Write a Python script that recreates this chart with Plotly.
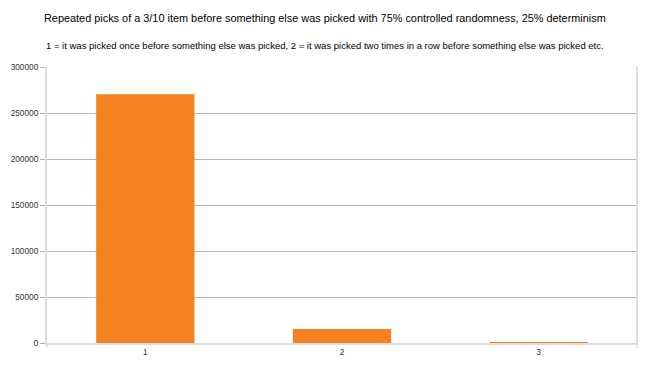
import plotly.graph_objects as go

categories = ["1", "2", "3"]
values = [270500, 15300, 150]
y_ticks = [0, 50000, 100000, 150000, 200000, 250000, 300000]

title = "Repeated picks of a 3/10 item before something else was picked with 75% controlled randomness, 25% determinism"
subtitle = "1 = it was picked once before something else was picked, 2 = it was picked two times in a row before something else was picked etc."

# page has an 8px body offset; margins compensate so the plot sits where the reference has it
L, R, T, B = 39, 21, 59, 31
W, H = 650, 366
ph = H - T - B
pw = W - L - R
cx = (317 - L) / pw

fig = go.Figure()
fig.add_trace(go.Bar(x=categories, y=values, marker=dict(color="#f58220", line=dict(width=0)),
                     width=0.5))

fig.update_layout(
    width=W, height=H,
    margin=dict(l=L, r=R, t=T, b=B),
    paper_bgcolor="white", plot_bgcolor="white",
    font=dict(family="Liberation Sans, Arial, sans-serif", color="#333333"),
    showlegend=False,
    annotations=[
        dict(text=title, x=cx, y=1 + (T - 10) / ph,
             xref="paper", yref="paper", showarrow=False, yanchor="middle", xanchor="center",
             font=dict(size=10.9, color="#000000")),
        dict(text=subtitle, x=cx, y=1 + (T - 37) / ph,
             xref="paper", yref="paper", showarrow=False, yanchor="middle", xanchor="center",
             font=dict(size=9.5, color="#000000")),
    ],
)

fig.update_xaxes(showgrid=False, showline=True, linecolor="#dddddd", linewidth=2,
                 ticks="", tickfont=dict(size=8.3, color="#333333"),
                 range=[-0.5, 2.5], automargin=False)
fig.update_yaxes(range=[0, 300000], tickvals=y_ticks, ticktext=[str(v) for v in y_ticks],
                 showgrid=True, gridcolor="#b3b3b3", gridwidth=1,
                 showline=True, linecolor="#dddddd", linewidth=2,
                 ticks="outside", ticklen=5, tickcolor="#b3b3b3",
                 tickfont=dict(size=8.3, color="#333333"), zeroline=False, automargin=False)
fig.add_shape(type="line", xref="paper", yref="paper", x0=1, x1=1, y0=-0.015, y1=1,
              line=dict(color="#dddddd", width=2))
fig.add_shape(type="line", xref="paper", yref="paper", x0=0, x1=0, y0=-0.015, y1=0,
              line=dict(color="#dddddd", width=2))

fig.write_html("out.html")
